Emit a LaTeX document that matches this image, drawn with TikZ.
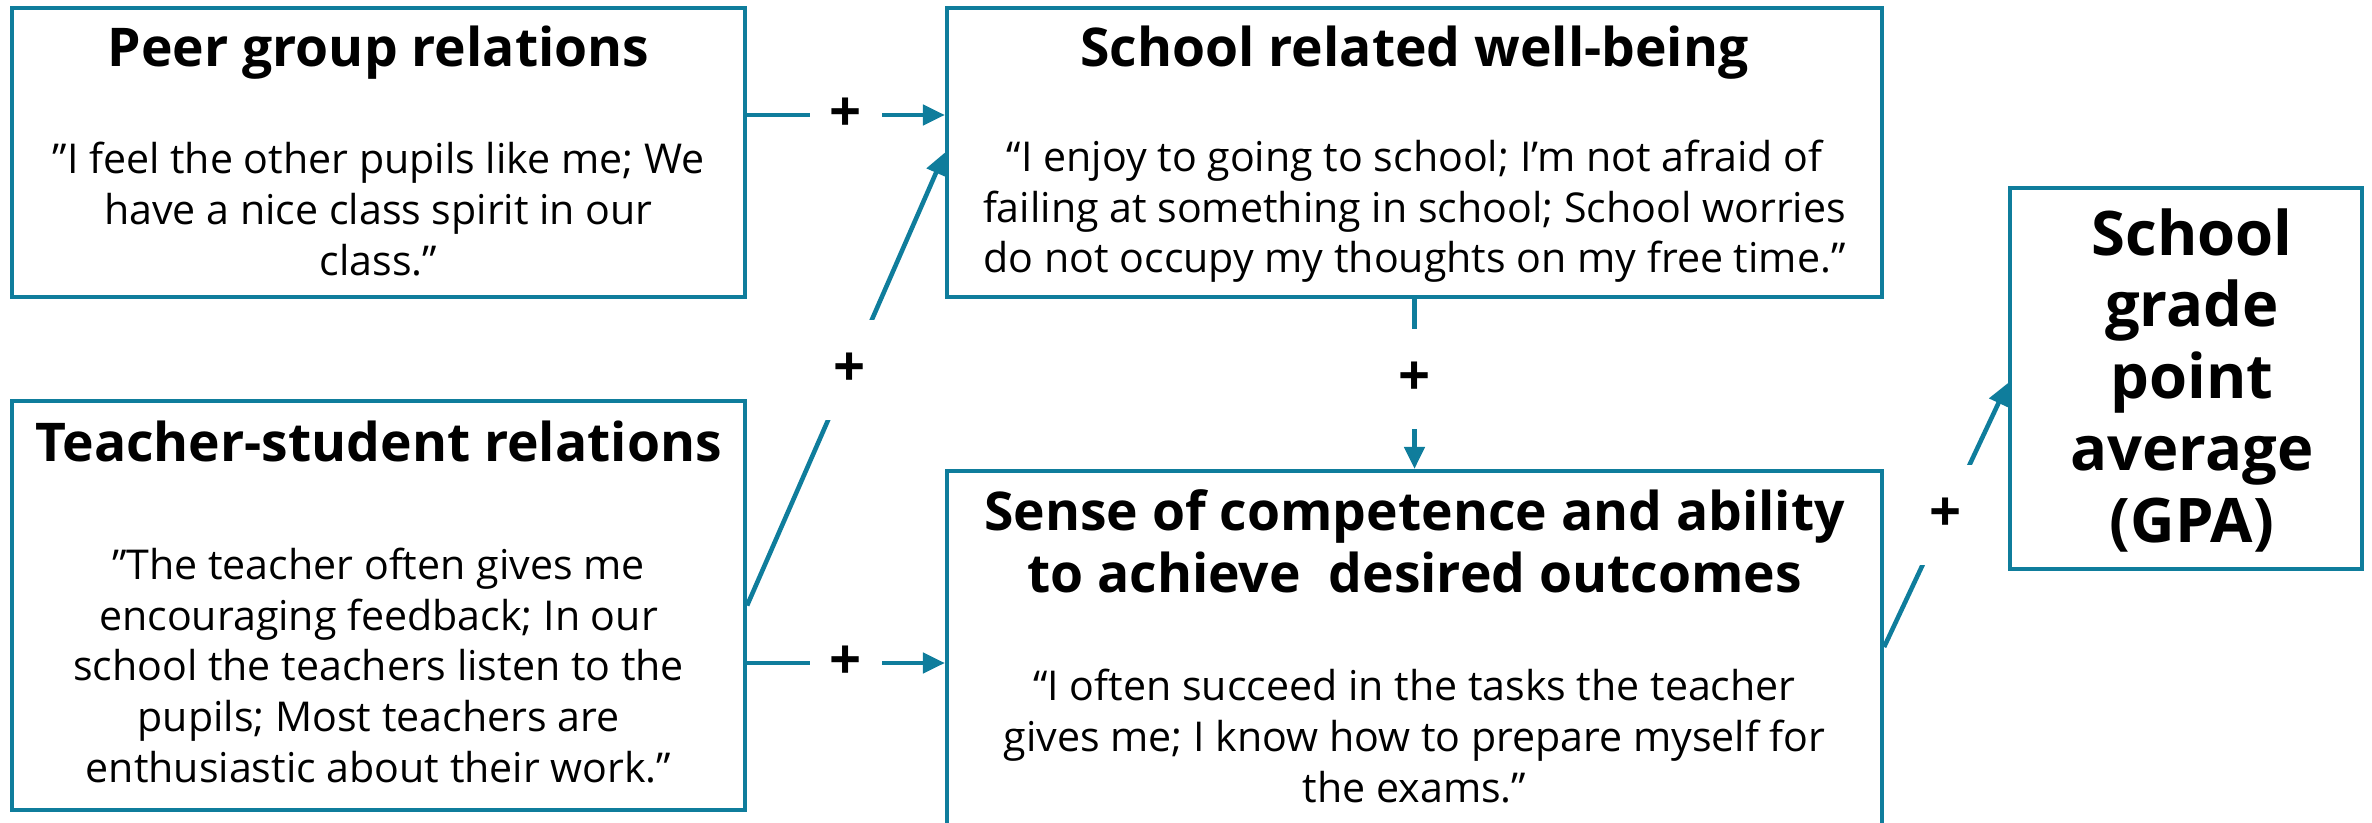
\documentclass[tikz,border=0pt]{standalone}
\usepackage{fontspec}
\setmainfont{Open Sans}
\usetikzlibrary{arrows.meta}

\definecolor{teal}{HTML}{0F7D9C}

\begin{document}
\begin{tikzpicture}[line width=1.2pt,
  box/.style={draw=teal, inner sep=0pt},
  ttl/.style={anchor=base, align=center, inner sep=0pt, font=\fontsize{15.2}{17.6}\selectfont\bfseries},
  quo/.style={anchor=base, align=center, inner sep=0pt, font=\fontsize{11.7}{14.4}\selectfont},
  conn/.style={draw=teal, line width=1.3pt, -{Triangle[length=2.2mm,width=2mm]}},
  plus/.style={fill=white, inner sep=0pt, minimum width=.72cm, minimum height=1cm, font=\fontsize{16}{16}\selectfont\bfseries}]
\useasboundingbox (0,0) rectangle (23.72,8.22);

% the five boxes
\node[box, minimum width=7.33cm, minimum height=2.89cm] (peer) at (3.785,6.695) {};
\node[box, minimum width=7.33cm, minimum height=4.09cm] (teacher) at (3.785,2.165) {};
\node[box, minimum width=9.35cm, minimum height=2.89cm] (well) at (14.145,6.695) {};
\node[box, minimum width=9.35cm, minimum height=3.69cm] (comp) at (14.145,1.665) {};
\node[box, minimum width=3.52cm, minimum height=3.81cm] (gpa) at (21.86,4.435) {};

% headings and quotes (base = last line)
\node[ttl] (peerT) at (3.785,7.55) {Peer group relations};
\node[quo] (peerQ) at (3.785,5.47) {”I feel the other pupils like me; We\\ have a nice class spirit in our\\ class.”};

\node[ttl] (teacherT) at (3.785,3.61) {Teacher-student relations};
\node[quo] (teacherQ) at (3.785,0.40) {”The teacher often gives me\\ encouraging feedback; In our\\
  school the teachers listen to the\\ pupils; Most teachers are\\ enthusiastic about their work.”};

\node[ttl] (wellT) at (14.145,7.55) {School related well-being};
\node[quo] (wellQ) at (14.145,5.49) {“I enjoy to going to school; I’m not afraid of\\
  failing at something in school; School worries\\ do not occupy my thoughts on my free time.”};

\node[ttl] (compT) at (14.145,2.30) {Sense of competence and ability\\ to achieve~ desired outcomes};
\node[quo] (compQ) at (14.145,0.20) {“I often succeed in the tasks the teacher\\
  gives me; I know how to prepare myself for\\ the exams.”};

\node[ttl, font=\fontsize{17.5}{20.4}\selectfont\bfseries] (gpaT) at (21.92,2.80) {School\\ grade\\ point\\ average\\ (GPA)};

% arrows
\coordinate (p1) at ([yshift=3.75mm]peer.east);
\coordinate (t1) at ([yshift=-5.75mm]teacher.east);
\draw[conn] (p1) -- node[plus] {+} (p1 -| well.west);
\draw[conn] (teacher.east) -- node[plus, pos=.52] {+} (well.west);
\draw[conn] (t1) -- node[plus] {+} (t1 -| comp.west);
\draw[conn] (well.south) -- node[plus, pos=.47] {+} (comp.north);
\draw[conn] ([yshift=.85mm]comp.east) -- node[plus] {+} ([yshift=-.45mm]gpa.west);
\end{tikzpicture}
\end{document}
